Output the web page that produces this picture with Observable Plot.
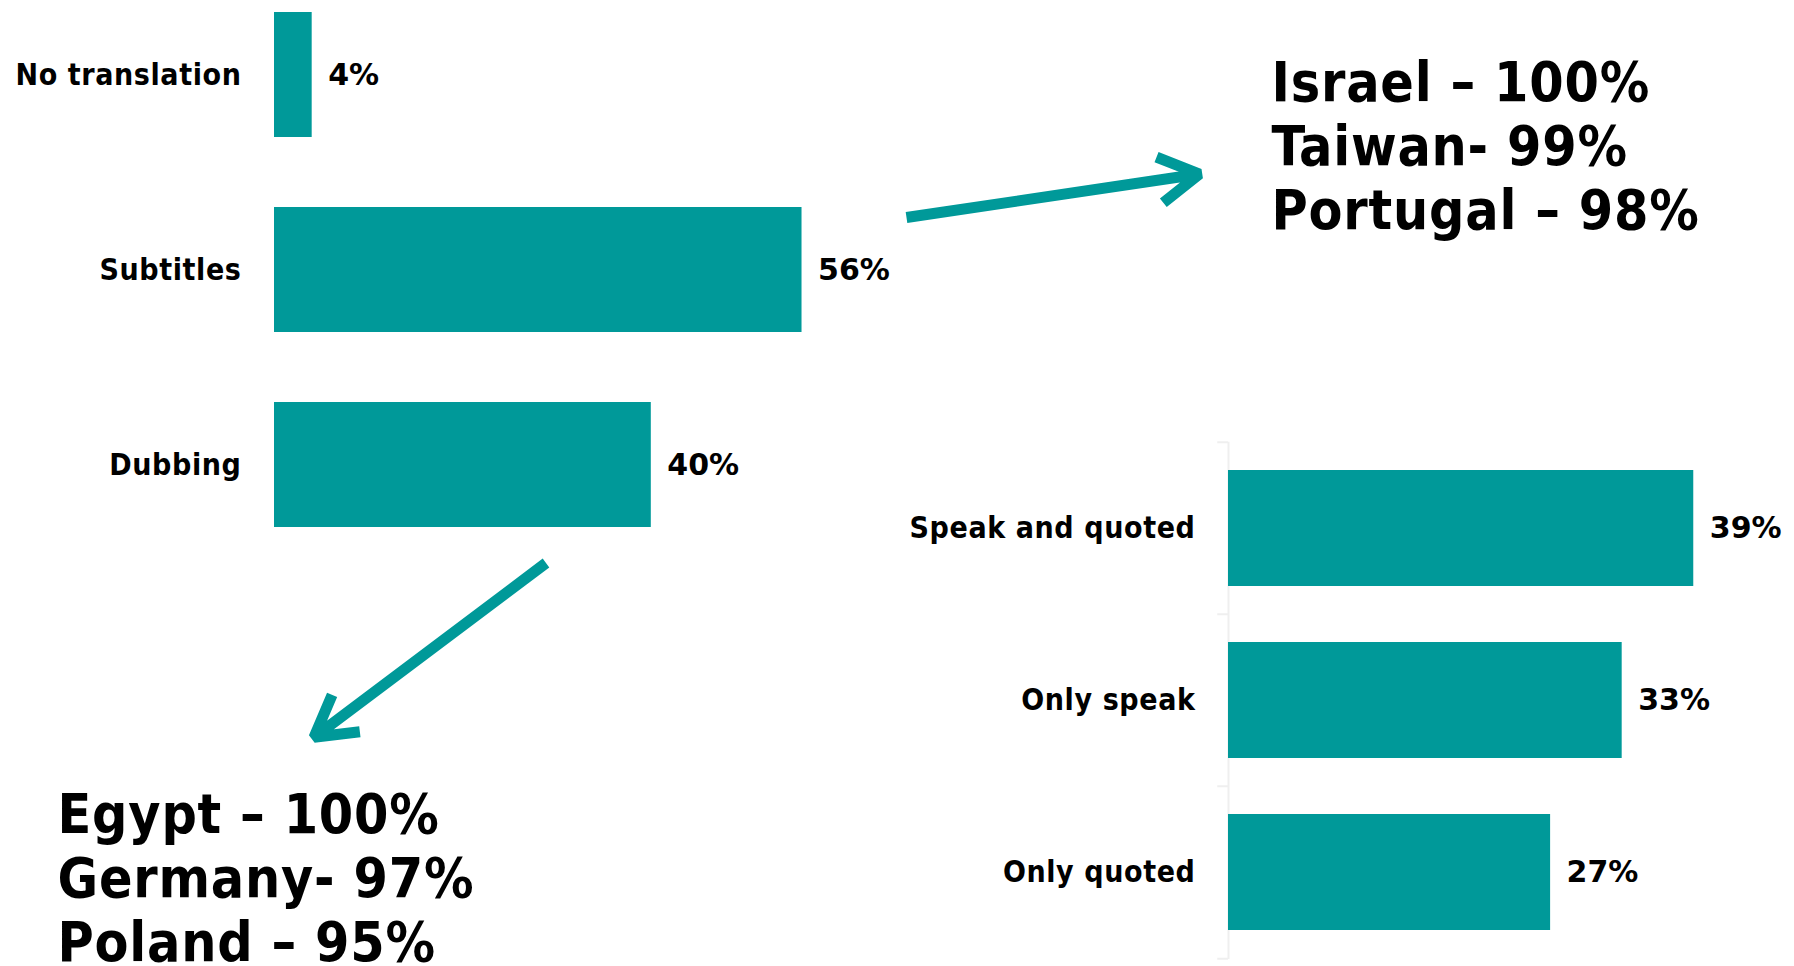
<!DOCTYPE html>
<html>
<head>
<meta charset="utf-8">
<script src="https://cdn.jsdelivr.net/npm/d3@7"></script>
<script src="https://cdn.jsdelivr.net/npm/@observablehq/plot@0.6"></script>
<style>
  html, body { margin: 0; padding: 0; background: #fff; }
  #stage { position: relative; width: 1794px; height: 966px; overflow: hidden; background: #fff; }
  #stage > svg { position: absolute; left: 0; top: 0; }
</style>
</head>
<body>
<div id="stage"></div>
<script>
// ---- data ----
const methods = ["No translation", "Subtitles", "Dubbing"];
const methodShares = [4, 56, 40];
const appearance = ["Speak and quoted", "Only speak", "Only quoted"];
const appearanceShares = [39, 33, 27];
const subtitleLeaders = ["Israel – 100%", "Taiwan- 99%", "Portugal – 98%"];
const dubbingLeaders = ["Egypt – 100%", "Germany- 97%", "Poland – 95%"];

// ---- tables built from the arrays ----
const methodRows = methods.map((k, i) => ({k, v: methodShares[i]}));
const appearanceRows = appearance.map((k, i) => ({k, v: appearanceShares[i]}));

// ---- styling / layout ----
const TEAL = "#009999";
const COND = "'DejaVu Sans Condensed', 'DejaVu Sans', sans-serif";
const WIDE = "'DejaVu Sans', sans-serif";
const W = 1794, H = 966;
const baseStyle = {
  background: "transparent",
  fontFamily: COND,
  fontWeight: "bold",
  fontSize: "30px",
  color: "#000",
  overflow: "visible"
};

function tune(svg) {
  // category labels: condensed bold (Tahoma-like); value labels: regular width
  svg.querySelectorAll('g[aria-label="y-axis tick label"]').forEach(g => {
    g.style.fontFamily = COND;
    g.style.fontStretch = "condensed";
    g.style.letterSpacing = "0.6px";
  });
  svg.querySelectorAll('g[aria-label="value"]').forEach(g => {
    g.style.fontFamily = WIDE;
    g.style.fontStretch = "normal";
  });
  return svg;
}

const stage = document.getElementById("stage");

// Left chart: translation method
const left = Plot.plot({
  width: W, height: H,
  marginLeft: 274, marginRight: 954.8, marginTop: 0, marginBottom: 0,
  style: baseStyle,
  x: {domain: [0, 60], axis: null},
  y: {domain: methods, range: [-23.4, 562.8], paddingInner: 0.361, paddingOuter: 0.1805,
      label: null, tickSize: 0, tickPadding: 33},
  marks: [
    Plot.barX(methodRows, {x: "v", y: "k", fill: TEAL}),
    Plot.text(methodRows, {x: "v", y: "k", text: d => `${d.v}%`, textAnchor: "start", dx: 16,
      fill: "#000", fontFamily: WIDE, ariaLabel: "value"})
  ]
});
stage.appendChild(tune(left));

// Right chart: speaking / quoted
const step = (958.65 - 441.15) / 3;
const right = Plot.plot({
  width: W, height: H,
  marginLeft: 1228, marginRight: 5.3, marginTop: 441.7, marginBottom: 7,
  style: baseStyle,
  x: {domain: [0, 47], axis: null},
  y: {domain: appearance, paddingInner: 0.3235, paddingOuter: 0.16175,
      label: null, tickSize: 0, tickPadding: 33},
  marks: [
    Plot.ruleX([0], {stroke: "#efefef", strokeWidth: 2}),
    Plot.ruleY(appearance, {y: d => d, x1: -0.9, x2: 0, dy: -step / 2, stroke: "#efefef", strokeWidth: 2}),
    Plot.ruleY(appearance.slice(-1), {y: d => d, x1: -0.9, x2: 0, dy: step / 2, stroke: "#efefef", strokeWidth: 2}),
    Plot.barX(appearanceRows, {x: "v", y: "k", fill: TEAL}),
    Plot.text(appearanceRows, {x: "v", y: "k", text: d => `${d.v}%`, textAnchor: "start", dx: 16,
      fill: "#000", fontFamily: WIDE, ariaLabel: "value"})
  ]
});
stage.appendChild(tune(right));

// Annotation layer: arrows and country call-outs (layout constants)
const arrowGeom = [
  {x1: 906, y1: 217, x2: 1199, y2: 173.5},
  {x1: 545.5, y1: 562.5, x2: 313.5, y2: 736.8}
];
const notes = Plot.plot({
  width: W, height: H, margin: 0,
  style: {...baseStyle, fontSize: "55px", fontStretch: "condensed", letterSpacing: "0.8px"},
  x: {type: "identity", axis: null},
  y: {type: "identity", axis: null},
  marks: [
    Plot.arrow(arrowGeom, {x1: "x1", y1: "y1", x2: "x2", y2: "y2", stroke: TEAL, strokeWidth: 11,
      headAngle: 60, headLength: 6.3, strokeLinejoin: "miter", strokeLinecap: "butt"}),
    Plot.text([subtitleLeaders.join("\n")], {frameAnchor: "top-left", dx: 1271, dy: 228,
      lineAnchor: "bottom", lineHeight: 64 / 55, textAnchor: "start", fontSize: 55, fill: "#000"}),
    Plot.text([dubbingLeaders.join("\n")], {frameAnchor: "bottom-left", dx: 57, dy: -6,
      lineAnchor: "bottom", lineHeight: 64 / 55, textAnchor: "start", fontSize: 55, fill: "#000"})
  ]
});
stage.appendChild(notes);
</script>
</body>
</html>
